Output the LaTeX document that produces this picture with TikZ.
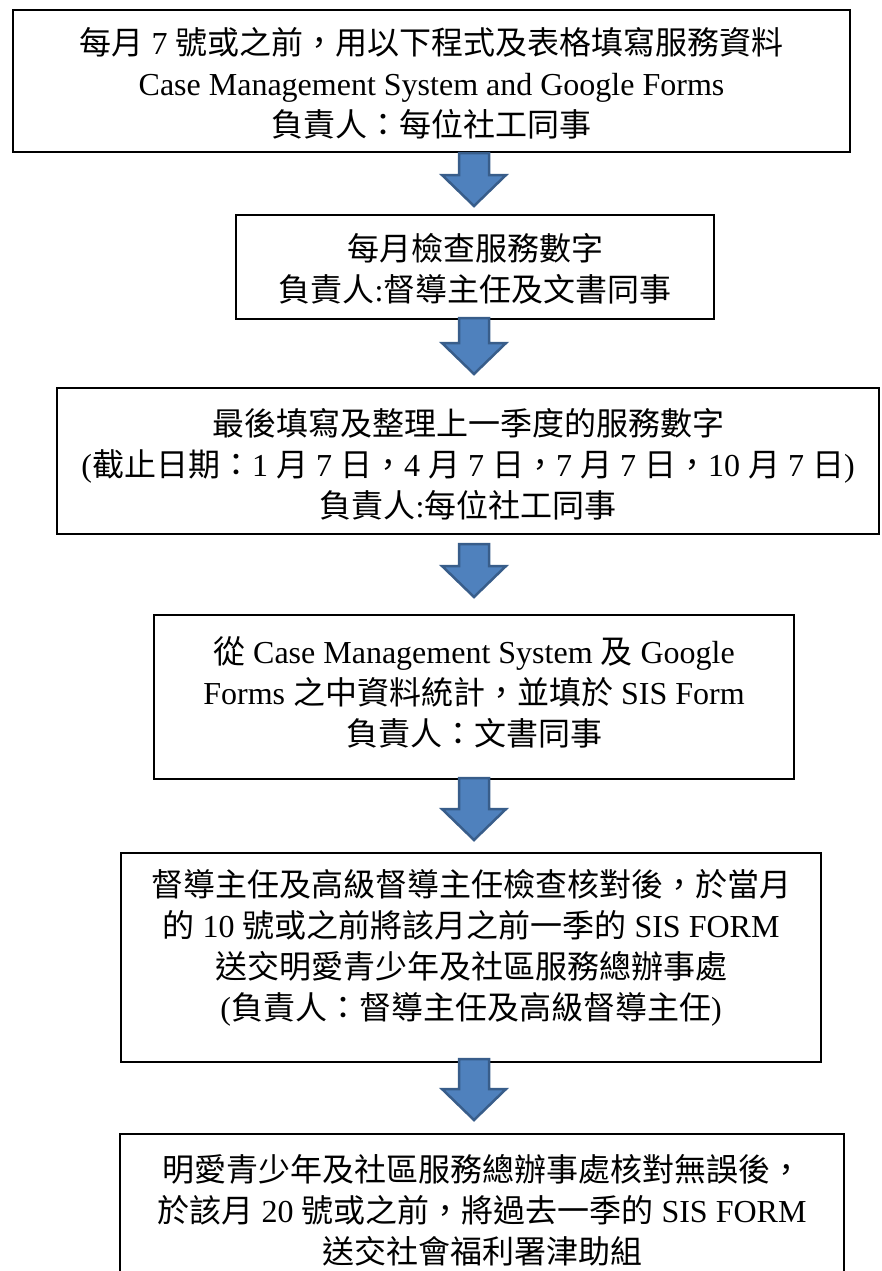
\documentclass[tikz,border=0pt]{standalone}
\usepackage{fontspec}
\setmainfont{Liberation Serif}
\newfontfamily\zhfont{Noto Sans CJK TC}
\usetikzlibrary{calc}
\newcommand{\zh}[1]{{\zhfont #1}}
\definecolor{arrowblue}{HTML}{4F81BD}
\definecolor{arrowedge}{HTML}{385D8A}
\tikzset{
  stepbox/.style={draw=black, line width=2pt, inner sep=0pt},
  steptext/.style={align=center, inner sep=0pt, font=\fontsize{32pt}{41pt}\selectfont},
  flowarrow/.style={fill=arrowblue, draw=arrowedge, line width=2.5pt},
}
\newcommand{\blockarrow}[2]{%
  \filldraw[flowarrow] ($(#1)+(-15,0)$) -- ($(#1)+(15,0)$) -- ($(#2)+(15,-31)$) -- ($(#2)+(32,-31)$)
    -- (#2) -- ($(#2)+(-32,-31)$) -- ($(#2)+(-15,-31)$) -- cycle;}

\begin{document}
\begin{tikzpicture}[x=1pt, y=-1pt]
	\useasboundingbox (0,0) rectangle (881,1271);
	\coordinate (ax) at (474,0);
	\node[stepbox, minimum width=837, minimum height=142] (s1) at (431.5,81) {};
	\node[stepbox, minimum width=478, minimum height=104] (s2) at (475,267) {};
	\node[stepbox, minimum width=822, minimum height=146] (s3) at (468,461) {};
	\node[stepbox, minimum width=640, minimum height=164] (s4) at (474,697) {};
	\node[stepbox, minimum width=700, minimum height=209] (s5) at (471,957.5) {};
	\node[stepbox, minimum width=724, minimum height=156] (s6) at (482,1212) {};

	\node[steptext] (t1) at ($(s1)+(0,2)$) {\zh{每月} 7 \zh{號或之前，用以下程式及表格填寫服務資料}\\
		Case Management System and Google Forms\\
		\zh{負責人：每位社工同事}};
	\node[steptext] (t2) at ($(s2)+(0,2)$) {\zh{每月檢查服務數字}\\
		\zh{負責人}:\zh{督導主任及文書同事}};
	\node[steptext] (t3) at ($(s3)+(0,3)$) {\zh{最後填寫及整理上一季度的服務數字}\\
		(\zh{截止日期：}1 \zh{月} 7 \zh{日，}4 \zh{月} 7 \zh{日，}7 \zh{月} 7 \zh{日，}10 \zh{月} 7 \zh{日})\\
		\zh{負責人}:\zh{每位社工同事}};
	\node[steptext] (t4) at ($(s4)+(0,-5)$) {\zh{從} Case Management System \zh{及} Google\\
		Forms \zh{之中資料統計，並填於} SIS Form\\
		\zh{負責人：文書同事}};
	\node[steptext] (t5) at ($(s5)+(0,-10)$) {\zh{督導主任及高級督導主任檢查核對後，於當月}\\
		\zh{的} 10 \zh{號或之前將該月之前一季的} SIS FORM\\
		\zh{送交明愛青少年及社區服務總辦事處}\\
		(\zh{負責人：督導主任及高級督導主任})};
	\node[steptext] (t6) at ($(s6)+(0,-2)$) {\zh{明愛青少年及社區服務總辦事處核對無誤後，}\\
		\zh{於該月} 20 \zh{號或之前，將過去一季的} SIS FORM\\
		\zh{送交社會福利署津助組}};

	\foreach \from/\to/\ds/\de in {s1/s2/0/-8, s2/s3/-2/-13, s3/s4/9/-17, s4/s5/-2/-12, s5/s6/-4/-13}{
		\coordinate (top) at ($(\from.south -| ax)+(0,\ds)$);
		\coordinate (tip) at ($(\to.north -| ax)+(0,\de)$);
		\blockarrow{top}{tip}
	}
\end{tikzpicture}
\end{document}
